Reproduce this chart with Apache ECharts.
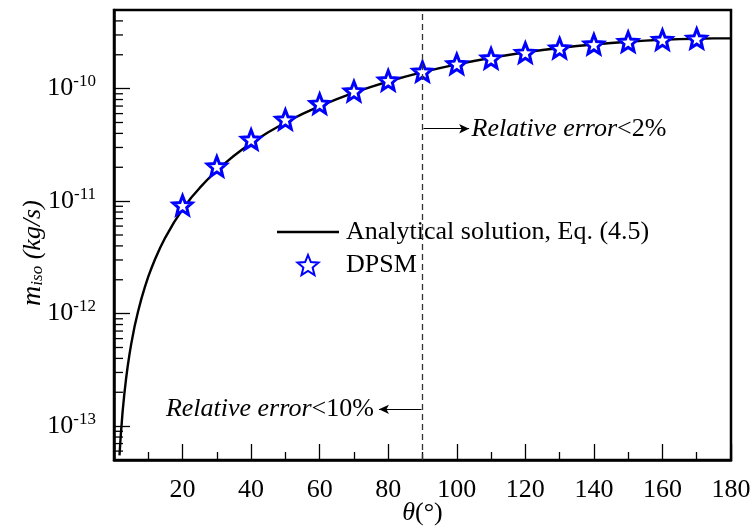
<!DOCTYPE html>
<html>
<head>
<meta charset="utf-8">
<script src="https://cdn.jsdelivr.net/npm/echarts@6/dist/echarts.min.js"></script>
<style>
html,body{margin:0;padding:0;background:#fff;}
#c{width:752px;height:526px;}
</style>
</head>
<body>
<div id="c"></div>
<script>
// ---- data ----
const curveTheta = [1.6, 2, 2.5, 3, 3.5, 4, 4.5, 5, 6, 7, 8, 9, 10, 11, 12, 13.5, 15, 17.5, 20, 22.5, 25, 27.5, 30, 32.5, 35, 37.5, 40, 45, 50, 55, 60, 65, 70, 75, 80, 85, 90, 95, 100, 105, 110, 115, 120, 125, 130, 135, 140, 145, 150, 155, 160, 165, 170, 175, 180];
const curveMass = [5.5e-14, 8.5e-14, 1.33e-13, 1.92e-13, 2.61e-13, 3.41e-13, 4.32e-13, 5.33e-13, 7.67e-13, 1.04e-12, 1.36e-12, 1.72e-12, 2.13e-12, 2.57e-12, 3.06e-12, 3.87e-12, 4.77e-12, 6.48e-12, 8.44e-12, 1.07e-11, 1.31e-11, 1.58e-11, 1.88e-11, 2.19e-11, 2.53e-11, 2.89e-11, 3.28e-11, 4.10e-11, 5.0e-11, 5.97e-11, 7.0e-11, 8.08e-11, 9.21e-11, 1.038e-10, 1.157e-10, 1.278e-10, 1.4e-10, 1.522e-10, 1.643e-10, 1.762e-10, 1.879e-10, 1.992e-10, 2.1e-10, 2.203e-10, 2.30e-10, 2.39e-10, 2.47e-10, 2.547e-10, 2.61e-10, 2.669e-10, 2.716e-10, 2.753e-10, 2.779e-10, 2.795e-10, 2.8e-10];
const dpsmTheta = [20, 30, 40, 50, 60, 70, 80, 90, 100, 110, 120, 130, 140, 150, 160, 170];
const dpsmMass = [9.2e-12, 2.04e-11, 3.53e-11, 5.32e-11, 7.35e-11, 9.5e-11, 1.186e-10, 1.42e-10, 1.66e-10, 1.86e-10, 2.09e-10, 2.29e-10, 2.48e-10, 2.61e-10, 2.72e-10, 2.79e-10];
const xTickLabels = ['20', '40', '60', '80', '100', '120', '140', '160', '180'];
const seriesNames = ['Analytical solution, Eq. (4.5)', 'DPSM'];
const splitTheta = 90;
const noteHigh = {i: 'Relative error', n: '<2%'};
const noteLow = {i: 'Relative error', n: '<10%'};
const yMin = 5e-14, yMax = 5e-10;

const FONT = 'Liberation Serif';
const STAR = 'path://M50,0 L62.93,32.2 L97.55,34.55 L70.92,56.8 L79.39,90.45 L50,72 L20.61,90.45 L29.08,56.8 L2.45,34.55 L37.07,32.2 Z';

const chart = echarts.init(document.getElementById('c'), null, {renderer: 'canvas'});

const option = {
  animation: false,
  backgroundColor: '#fff',
  grid: {left: 114, top: 10, right: 21, bottom: 66, containLabel: false, outerBoundsMode: 'none',
    show: true, borderColor: '#000', borderWidth: 2.5, backgroundColor: 'transparent'},
  legend: {
    orient: 'vertical', left: 271, top: 212,
    padding: [7, 8, 7, 6], itemGap: 7,
    backgroundColor: '#fff',
    itemWidth: 62, itemHeight: 20,
    textStyle: {fontFamily: FONT, fontSize: 26, color: '#000', padding: [0, 0, 0, 2]},
    data: [
      {name: seriesNames[0], icon: 'path://M0,0 H62 V2.4 H0 Z', itemStyle: {color: '#000'}},
      {name: seriesNames[1]}
    ]
  },
  xAxis: {
    type: 'value', min: 0, max: 180, interval: 20,
    axisLine: {show: true, onZero: false, lineStyle: {color: '#000', width: 2.5}},
    axisTick: {show: true, inside: true, length: 16, lineStyle: {color: '#000', width: 1.3}},
    minorTick: {show: true, splitNumber: 2, length: 8, lineStyle: {color: '#000', width: 1.3}},
    splitLine: {show: false},
    axisLabel: {
      margin: 17, color: '#000', fontFamily: FONT, fontSize: 26,
      formatter: v => { const s = String(v); return xTickLabels.indexOf(s) >= 0 ? s : ''; }
    },
    name: '{t|θ}{p|(°)}', nameLocation: 'middle', nameGap: 40, nameMoveOverlap: false,
    nameTextStyle: {rich: {
      t: {fontFamily: FONT, fontSize: 26, fontStyle: 'italic', color: '#000'},
      p: {fontFamily: FONT, fontSize: 26, color: '#000'}
    }}
  },
  yAxis: {
    type: 'log', logBase: 10, min: yMin, max: yMax,
    axisLine: {show: true, lineStyle: {color: '#000', width: 2.5}},
    axisTick: {show: true, inside: true, length: 16, lineStyle: {color: '#000', width: 1.3}},
    splitLine: {show: false},
    axisLabel: {
      margin: 18, showMinLabel: false, showMaxLabel: false,
      formatter: v => {
        const l = Math.log10(v); const e = Math.round(l);
        if (Math.abs(l - e) > 0.01) return '';
        return '{b|10}{s|' + e + '}';
      },
      rich: {
        b: {fontFamily: FONT, fontSize: 26, color: '#000'},
        s: {fontFamily: FONT, fontSize: 17, color: '#000', padding: [0, 0, 14, 0]}
      }
    }
  },
  series: [
    {
      name: seriesNames[0], type: 'line',
      data: curveTheta.map((t, i) => [t, curveMass[i]]),
      symbol: 'none', smooth: false,
      lineStyle: {color: '#000', width: 2.4},
      itemStyle: {color: '#000'},
      z: 3,
      markLine: {
        silent: true, symbol: ['none', 'none'], animation: false,
        label: {show: false},
        lineStyle: {color: '#333', width: 1.3, type: [6, 4]},
        data: [{xAxis: splitTheta}]
      }
    },
    {
      name: seriesNames[1], type: 'scatter',
      data: dpsmTheta.map((t, i) => [t, dpsmMass[i]]),
      symbol: STAR, symbolSize: 19,
      itemStyle: {color: '#fff', borderColor: '#0000ff', borderWidth: 3, opacity: 1},
      z: 4,
      markLine: {
        silent: true, symbol: ['none', 'arrow'], symbolSize: [7, 10], animation: false,
        label: {show: false},
        lineStyle: {color: '#000', width: 1.2, type: 'solid', opacity: 1},
        data: [
          [{coord: [90.3, 4.4e-11]}, {coord: [103.6, 4.4e-11]}],
          [{coord: [89.7, 1.41e-13]}, {coord: [77.3, 1.41e-13]}]
        ]
      }
    }
  ]
};
chart.setOption(option);

// ---- y minor ticks (log decades), notes and y name placed through the axis scales ----
const graphics = [];
const x0 = chart.convertToPixel({xAxisIndex: 0}, 0);
for (let d = -14; d <= -10; d++) {
  for (let k = 2; k <= 9; k++) {
    const v = k * Math.pow(10, d);
    if (v <= yMin || v >= yMax) continue;
    const py = chart.convertToPixel({yAxisIndex: 0}, v);
    graphics.push({type: 'line', shape: {x1: x0, y1: py, x2: x0 + 9, y2: py}, style: {stroke: '#000', lineWidth: 1.3}, z: 10});
  }
}
const richNote = {
  i: {fontFamily: FONT, fontSize: 26, fontStyle: 'italic', fill: '#000'},
  n: {fontFamily: FONT, fontSize: 26, fill: '#000'}
};
const pHigh = chart.convertToPixel({xAxisIndex: 0, yAxisIndex: 0}, [104.3, 4.4e-11]);
graphics.push({type: 'text', x: pHigh[0], y: pHigh[1], z: 10,
  style: {text: '{i|' + noteHigh.i + '}{n|' + noteHigh.n + '}', rich: richNote, align: 'left', verticalAlign: 'middle'}});
const pLow = chart.convertToPixel({xAxisIndex: 0, yAxisIndex: 0}, [75.8, 1.41e-13]);
graphics.push({type: 'text', x: pLow[0], y: pLow[1], z: 10,
  style: {text: '{i|' + noteLow.i + '}{n|' + noteLow.n + '}', rich: richNote, align: 'right', verticalAlign: 'middle'}});
graphics.push({type: 'text', x: 33, y: 253, rotation: Math.PI / 2, z: 10,
  style: {
    text: '{m|m}{s|iso}{p| (kg/s)}', align: 'center', verticalAlign: 'middle',
    rich: {
      m: {fontFamily: FONT, fontSize: 28, fontStyle: 'italic', fill: '#000'},
      s: {fontFamily: FONT, fontSize: 17, fontStyle: 'italic', fill: '#000', padding: [10, 0, 0, 0]},
      p: {fontFamily: FONT, fontSize: 26, fontStyle: 'italic', fill: '#000'}
    }
  }});
chart.setOption({graphic: graphics});
</script>
</body>
</html>
